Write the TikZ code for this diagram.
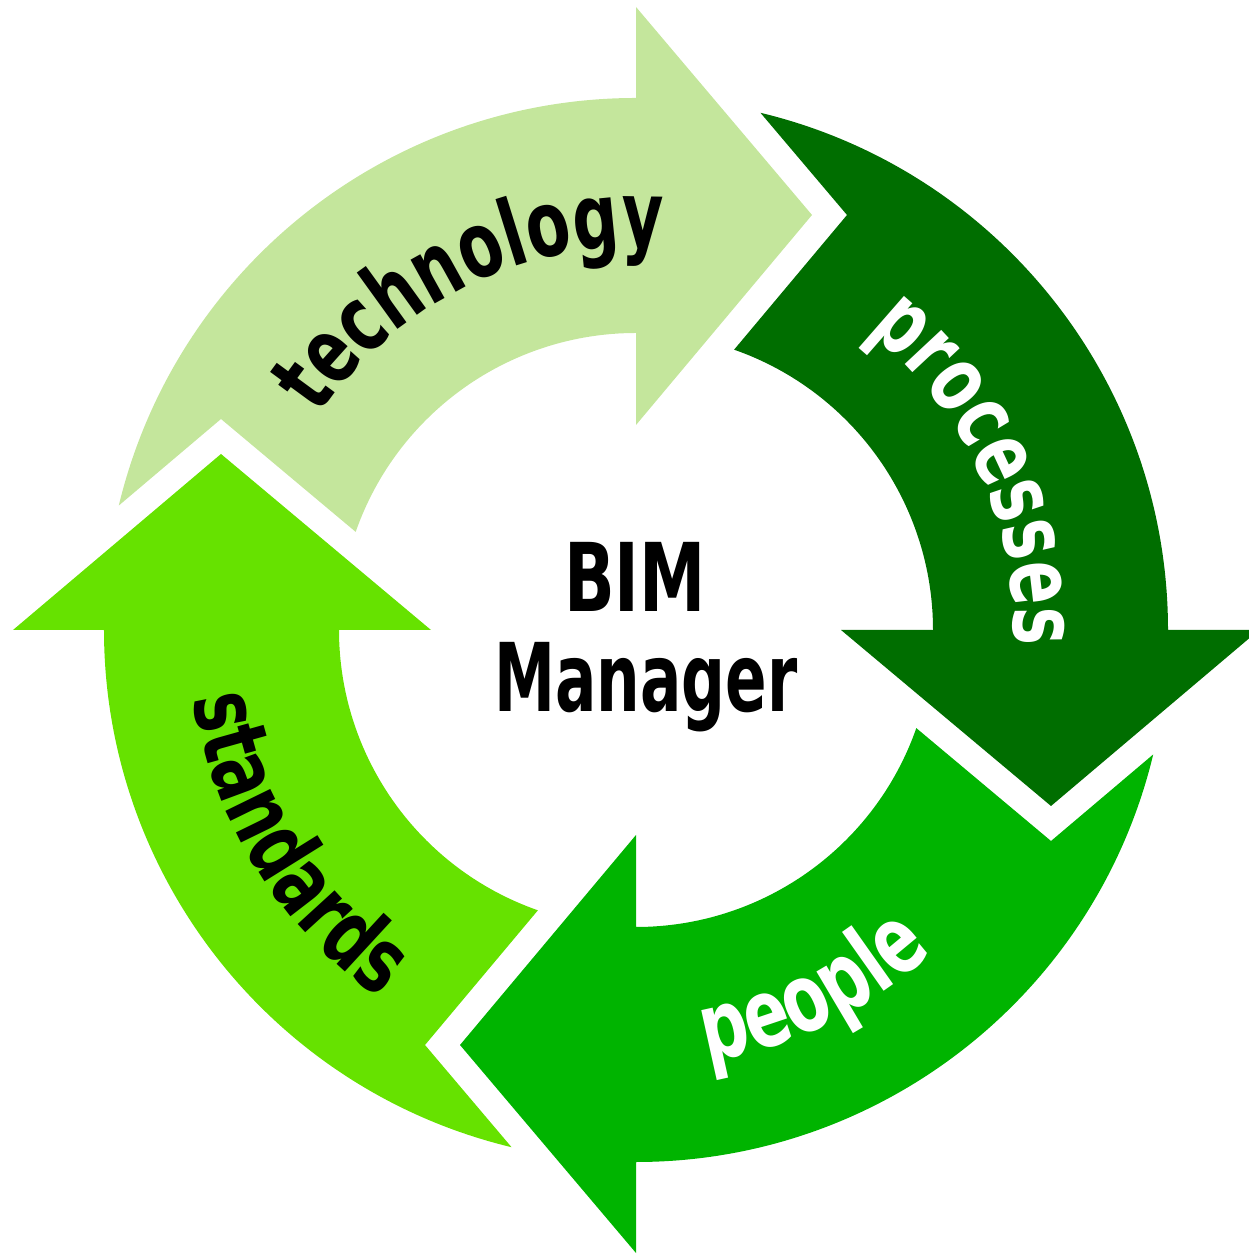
\documentclass[tikz,border=0pt]{standalone}
\usepackage{fontspec}
\newfontfamily\lblfont[FakeStretch=0.78]{DejaVu Sans Condensed Bold}
\usetikzlibrary{decorations.text}
\definecolor{techcol}{HTML}{C4E69C}
\definecolor{proccol}{HTML}{006E00}
\definecolor{peopcol}{HTML}{00B400}
\definecolor{standcol}{HTML}{66E200}
\def\bimarrowpath{(166.47:5.32) arc[start angle=166.47, end angle=90, radius=5.32] -- (0,6.23) -- (1.76,4.15) -- (0,2.05) -- (0,2.97) arc[start angle=90, end angle=160.71, radius=2.97] -- (-4.15,2.11) -- cycle}
\tikzset{
  centertext/.style={font=\lblfont\fontsize{27}{32}\selectfont, text=black, inner sep=0pt, anchor=base},
}
\begin{document}
\begin{tikzpicture}
\useasboundingbox (-6.36,-6.24) rectangle (6.12,6.30);
% arrows
\fill[techcol] \bimarrowpath;
\begin{scope}[rotate=-90]
  \fill[proccol] \bimarrowpath;
\end{scope}
\begin{scope}[rotate=-180]
  \fill[peopcol] \bimarrowpath;
\end{scope}
\begin{scope}[rotate=-270]
  \fill[standcol] \bimarrowpath;
\end{scope}
% arc labels
\path[decorate, decoration={text along path, text align=center,
  text={|\lblfont\fontsize{26}{30}\selectfont\color{black}|technology}}]
  (166:3.83) arc[start angle=166, end angle=66, radius=3.83];
\path[decorate, decoration={text along path, text align=center,
  text={|\lblfont\fontsize{26}{30}\selectfont\color{white}|processes}}]
  (75:3.78) arc[start angle=75, end angle=-25, radius=3.78];
\path[decorate, decoration={text along path, text align=center,
  text={|\lblfont\fontsize{27}{30}\selectfont\color{white}|people}}]
  (-114:4.38) arc[start angle=-114, end angle=-14, radius=4.38];
\path[decorate, decoration={text along path, text align=center,
  text={|\lblfont\fontsize{26}{30}\selectfont\color{black}|standards}}]
  (162:4.48) arc[start angle=162, end angle=262, radius=4.48];
% centre
\node[centertext] (bim) at (-0.01,0.18) {BIM};
\node[centertext] (mgr) at (0.10,-0.82) {\scalebox{0.92}[1]{Manager}};
\end{tikzpicture}
\end{document}
